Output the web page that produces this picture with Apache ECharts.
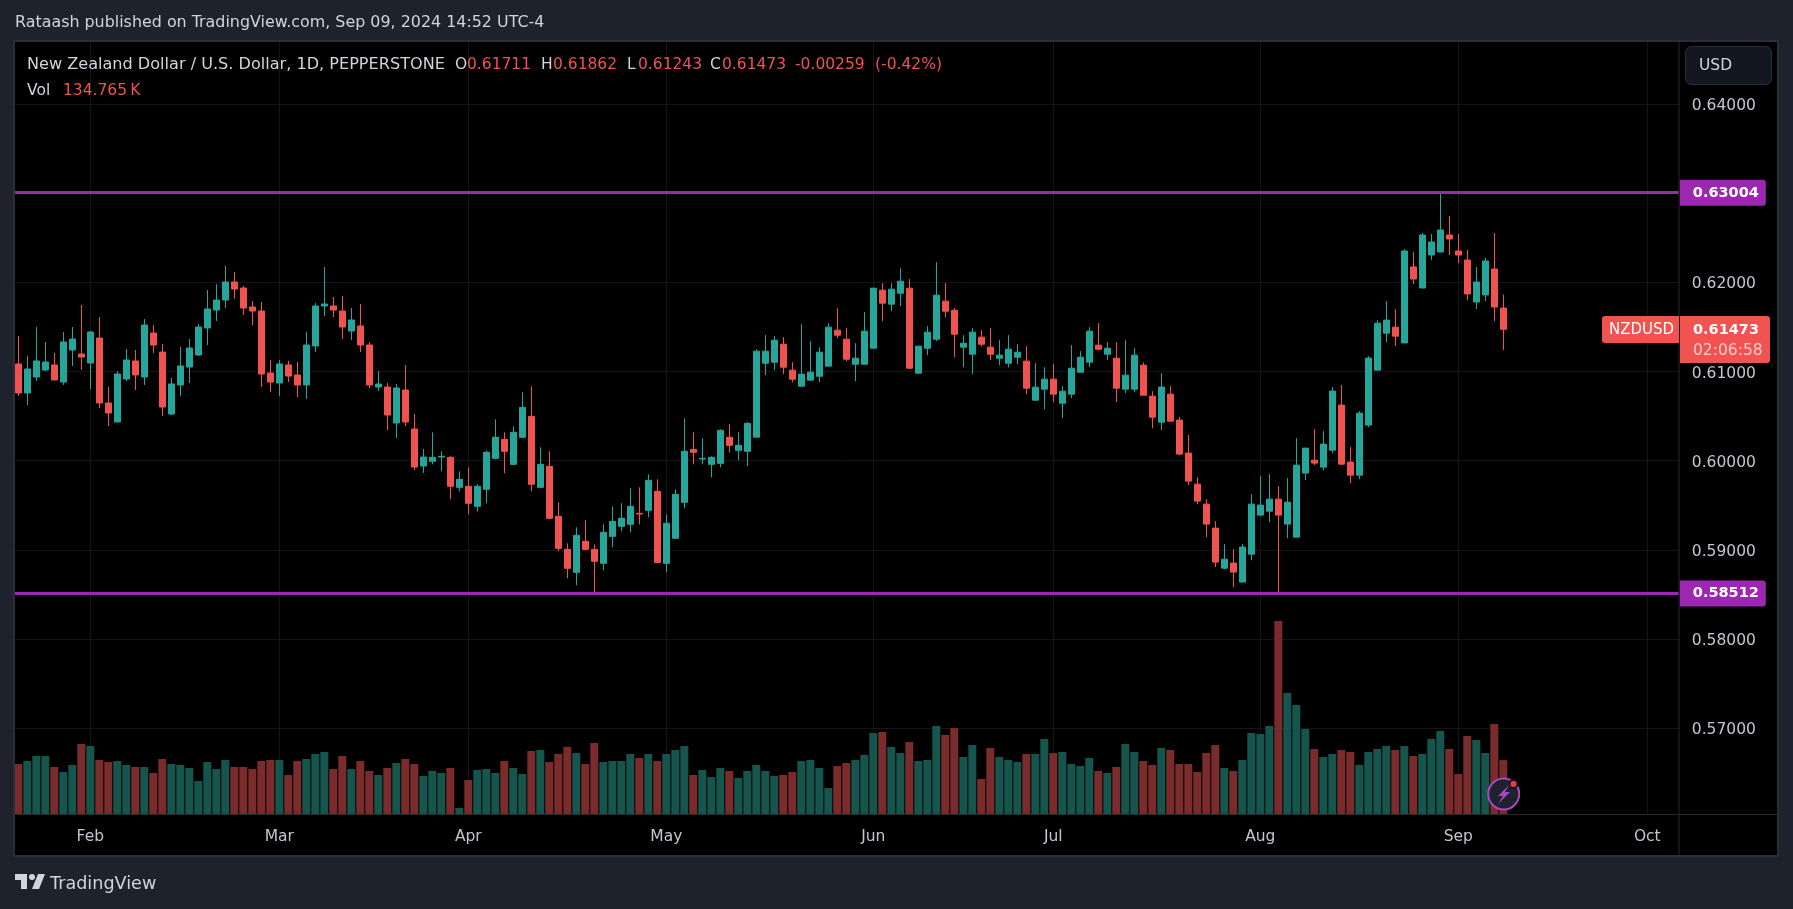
<!DOCTYPE html>
<html>
<head>
<meta charset="utf-8">
<title>NZDUSD</title>
<style>
  html, body { margin: 0; padding: 0; background: #1e222d; }
  #main { width: 1793px; height: 909px; }
</style>
<script src="https://cdn.jsdelivr.net/npm/echarts@6/dist/echarts.min.js"></script>
</head>
<body>
<div id="main"></div>
<script>
// daily candles, 22 Jan - 9 Sep 2024
const opens = [
  0.61084,0.60759,0.60938,0.61017,0.61073,0.60882,0.61241,0.61196,0.61095,0.61375,
  0.60647,0.60434,0.60916,0.61118,0.60938,0.61431,0.61218,0.60523,0.60849,0.61050,
  0.61185,0.61488,0.61689,0.61801,0.62003,0.61936,0.61723,0.61678,0.60983,0.60871,
  0.61073,0.60961,0.60849,0.61286,0.61734,0.61734,0.61678,0.61454,0.61510,0.61297,
  0.60826,0.60826,0.60423,0.60792,0.60355,0.59940,0.59993,0.60041,0.60038,0.59701,
  0.59713,0.59488,0.59679,0.60026,0.60239,0.59959,0.60262,0.60497,0.59701,0.59937,
  0.59376,0.59006,0.58748,0.59096,0.59006,0.58849,0.59152,0.59264,0.59287,0.59410,
  0.59443,0.59656,0.58849,0.59130,0.59533,0.60127,0.60019,0.59959,0.59970,0.60262,
  0.60116,0.60105,0.60264,0.61093,0.61104,0.61306,0.61015,0.60835,0.60903,0.60947,
  0.61060,0.61463,0.61362,0.61082,0.61082,0.61261,0.61912,0.61755,0.61878,0.61934,
  0.60981,0.61261,0.61362,0.61788,0.61687,0.61273,0.61194,0.61385,0.61273,0.61149,
  0.61093,0.61160,0.61116,0.60678,0.60802,0.60914,0.60645,0.60746,0.60992,0.61104,
  0.61295,0.61194,0.61149,0.60802,0.60802,0.61071,0.60723,0.60432,0.60746,0.60455,
  0.60085,0.59737,0.59513,0.59244,0.58795,0.58852,0.58639,0.58952,0.59390,0.59434,
  0.59569,0.59289,0.59143,0.59861,0.60006,0.59928,0.60118,0.60623,0.59984,0.59838,
  0.60399,0.61015,0.61430,0.61497,0.61320,0.62172,0.61936,0.62306,0.62340,0.62530,
  0.62351,0.62250,0.61779,0.61858,0.62149,0.61711
];
const closes = [
  0.60759,0.61028,0.61118,0.61106,0.60905,0.61331,0.61364,0.61162,0.61443,0.60647,
  0.60535,0.60972,0.61129,0.60961,0.61521,0.61297,0.60602,0.60860,0.61062,0.61263,
  0.61499,0.61701,0.61801,0.62003,0.61925,0.61712,0.61678,0.60972,0.60882,0.61084,
  0.60949,0.60849,0.61297,0.61734,0.61757,0.61689,0.61499,0.61577,0.61297,0.60849,
  0.60860,0.60512,0.60815,0.60434,0.59929,0.60041,0.60038,0.60049,0.59713,0.59791,
  0.59522,0.59713,0.60094,0.60262,0.60105,0.60318,0.60598,0.59735,0.59959,0.59354,
  0.59017,0.58793,0.59163,0.59006,0.58872,0.59197,0.59320,0.59354,0.59488,0.59402,
  0.59780,0.58860,0.59298,0.59623,0.60105,0.60094,0.60026,0.60038,0.60340,0.60172,
  0.60172,0.60419,0.61228,0.61228,0.61351,0.61048,0.60914,0.60970,0.60992,0.61216,
  0.61497,0.61407,0.61138,0.61149,0.61452,0.61934,0.61766,0.61923,0.62012,0.61037,
  0.61284,0.61441,0.61856,0.61676,0.61418,0.61317,0.61441,0.61306,0.61194,0.61183,
  0.61250,0.61216,0.60813,0.60824,0.60914,0.60746,0.60779,0.61037,0.61160,0.61452,
  0.61250,0.61261,0.60813,0.60959,0.61183,0.60734,0.60488,0.60825,0.60443,0.60074,
  0.59771,0.59547,0.59289,0.58863,0.58896,0.58751,0.59031,0.59513,0.59502,0.59569,
  0.59390,0.59535,0.59950,0.60141,0.59973,0.60186,0.60780,0.59961,0.59838,0.60533,
  0.61150,0.61542,0.61576,0.61396,0.62351,0.62037,0.62530,0.62452,0.62586,0.62486,
  0.62306,0.61869,0.62003,0.62239,0.61723,0.61473
];
const lows = [
  0.60725,0.60624,0.60893,0.61005,0.60905,0.60849,0.61062,0.61017,0.60804,0.60591,
  0.60389,0.60434,0.60893,0.60792,0.60849,0.61207,0.60501,0.60512,0.60725,0.60871,
  0.61174,0.61297,0.61566,0.61712,0.61813,0.61633,0.61521,0.60826,0.60770,0.60725,
  0.60882,0.60714,0.60692,0.61218,0.61622,0.61611,0.61364,0.61353,0.61218,0.60815,
  0.60781,0.60344,0.60254,0.60389,0.59896,0.59862,0.59959,0.59881,0.59567,0.59656,
  0.59399,0.59432,0.59522,0.60015,0.59858,0.59948,0.60262,0.59656,0.59690,0.59343,
  0.58984,0.58681,0.58603,0.58995,0.58524,0.58771,0.59029,0.59208,0.59197,0.59287,
  0.59365,0.58860,0.58748,0.59130,0.59466,0.59959,0.59959,0.59813,0.59926,0.60094,
  0.60004,0.59937,0.60264,0.60959,0.61015,0.60970,0.60880,0.60835,0.60903,0.60880,
  0.61060,0.61373,0.61116,0.60891,0.61082,0.61261,0.61564,0.61676,0.61732,0.61026,
  0.60981,0.61183,0.61340,0.61609,0.61160,0.61048,0.60970,0.61284,0.61127,0.61071,
  0.61048,0.61082,0.60746,0.60678,0.60577,0.60656,0.60477,0.60701,0.60992,0.61048,
  0.61239,0.61127,0.60656,0.60757,0.60768,0.60734,0.60364,0.60343,0.60443,0.60062,
  0.59726,0.59513,0.59143,0.58807,0.58784,0.58582,0.58639,0.58885,0.59378,0.59311,
  0.58512,0.59132,0.59143,0.59782,0.59950,0.59894,0.60085,0.59950,0.59748,0.59793,
  0.60376,0.61015,0.61329,0.61284,0.61320,0.61981,0.61936,0.62250,0.62340,0.62306,
  0.62216,0.61802,0.61701,0.61790,0.61566,0.61243
];
const highs = [
  0.61398,0.61174,0.61499,0.61331,0.61207,0.61443,0.61499,0.61745,0.61454,0.61611,
  0.60826,0.61005,0.61252,0.61241,0.61588,0.61521,0.61308,0.60927,0.61275,0.61364,
  0.61532,0.61914,0.61981,0.62183,0.62115,0.61958,0.61790,0.61779,0.61129,0.61129,
  0.61118,0.61106,0.61443,0.61768,0.62171,0.61835,0.61846,0.61712,0.61757,0.61331,
  0.61005,0.60871,0.60860,0.61073,0.60523,0.60131,0.60318,0.60105,0.60049,0.59881,
  0.59926,0.59735,0.60116,0.60464,0.60318,0.60385,0.60766,0.60834,0.60150,0.60105,
  0.59533,0.59074,0.59253,0.59331,0.59062,0.59287,0.59488,0.59522,0.59690,0.59701,
  0.59847,0.59791,0.59399,0.59679,0.60475,0.60318,0.60251,0.60049,0.60352,0.60408,
  0.60318,0.60430,0.61250,0.61407,0.61396,0.61385,0.61104,0.61530,0.61340,0.61273,
  0.61542,0.61710,0.61486,0.61317,0.61665,0.61934,0.61990,0.61990,0.62158,0.62035,
  0.61284,0.61508,0.62225,0.61990,0.61710,0.61407,0.61486,0.61463,0.61486,0.61351,
  0.61407,0.61306,0.61284,0.61093,0.61048,0.61082,0.60835,0.61295,0.61228,0.61497,
  0.61542,0.61329,0.61329,0.61351,0.61261,0.61104,0.60779,0.60982,0.60836,0.60488,
  0.60287,0.59816,0.59569,0.59322,0.59065,0.59008,0.59065,0.59625,0.59827,0.59849,
  0.59715,0.59804,0.60253,0.60141,0.60354,0.60331,0.60825,0.60847,0.60152,0.60556,
  0.61172,0.61576,0.61789,0.61699,0.62373,0.62340,0.62553,0.62542,0.63001,0.62743,
  0.62542,0.62362,0.62172,0.62273,0.62553,0.61862
];
// volume in thousands
const volumes = [
  125,132.5,145,145,117.5,105,122.5,175,170,135,
  130,132.5,122.5,117.5,117.5,102.5,137.5,125,122.5,115,
  82.5,130,112.5,135,117.5,117.5,112.5,132.5,135,135,
  97.5,132.5,137.5,150,155,112.5,145,112.5,132.5,107.5,
  97.5,115,127.5,137.5,125,95,107.5,102.5,115,15,
  85,110,112.5,102.5,132.5,115,100,157.5,160,130,
  150,167.5,152.5,125,177.5,130,132.5,132.5,150,140,
  150,132.5,150,160,170,97.5,110,92.5,115,107.5,
  90,107.5,122.5,107.5,95,97.5,105,132.5,135,115,
  65,120,127.5,135,147.5,202.5,205,167.5,152.5,180,
  132.5,135,220,197.5,215,142.5,172.5,87.5,165,142.5,
  135,130,150,150,187.5,152.5,155,125,120,140,
  107.5,102.5,117.5,175,155,132.5,122.5,165,160,125,
  125,105,152.5,172.5,115,107.5,135,202.5,200,220,
  482.5,302.5,272.5,212.5,162.5,142.5,150,160,155,122.5,
  155,162.5,170,160,170,145,150,187.5,207.5,162.5,
  100,195,185,152.5,225,134.765
];
const levels = [0.63004, 0.58512];
const priceTicks = [0.57, 0.58, 0.59, 0.60, 0.61, 0.62, 0.64];
const monthTicks = { 8: 'Feb', 29: 'Mar', 50: 'Apr', 72: 'May', 95: 'Jun', 115: 'Jul', 138: 'Aug', 160: 'Sep', 181: 'Oct' };

const up = '#26a69a';
const down = '#ef5350';
const volUp = '#16544e';
const volDown = '#7a2b2b';
const grey = '#c3c6cf';
const font = '"DejaVu Sans", sans-serif';

// weekdays from 22 Jan, run past the last bar so Oct has a slot
const dates = [];
for (let d = new Date(Date.UTC(2024, 0, 22)); dates.length < 185; d.setUTCDate(d.getUTCDate() + 1)) {
  if (d.getUTCDay() > 0 && d.getUTCDay() < 6) dates.push(d.toISOString().slice(0, 10));
}

const candleData = opens.map((o, i) => [o, closes[i], lows[i], highs[i]]);
const volumeData = volumes.map((v, i) => ({
  value: v,
  itemStyle: { color: closes[i] >= opens[i] ? volUp : volDown }
}));
const isMonth = index => monthTicks[index] !== undefined;

function label(x, y, text, color, extra) {
  return {
    type: 'text', x: x, y: y, z: 20,
    style: Object.assign({ text: text, fill: color, font: '15.5px ' + font, textVerticalAlign: 'middle' }, extra || {})
  };
}

const chart = echarts.init(document.getElementById('main'));
chart.setOption({
  animation: false,
  backgroundColor: '#1e222d',
  grid: [
    { left: 13.8, top: 42, width: 1665, height: 772 },
    { left: 13.8, top: 514, width: 1665, height: 300 }
  ],
  xAxis: [
    {
      type: 'category', gridIndex: 0, data: dates,
      axisLine: { show: false },
      axisTick: { show: false },
      axisLabel: {
        interval: isMonth,
        formatter: (v, i) => monthTicks[i],
        color: grey, fontFamily: font, fontSize: 15.5, margin: 15
      },
      splitLine: { show: true, interval: isMonth, alignWithLabel: true, lineStyle: { color: '#141518', width: 1 } }
    },
    {
      type: 'category', gridIndex: 1, data: dates,
      axisLine: { show: false }, axisTick: { show: false }, axisLabel: { show: false }, splitLine: { show: false }
    }
  ],
  yAxis: [
    {
      type: 'value', gridIndex: 0, position: 'right', scale: true,
      min: 0.56039, max: 0.64694,
      axisLine: { show: false },
      axisTick: { show: false, customValues: priceTicks },
      axisLabel: {
        customValues: priceTicks,
        formatter: v => v.toFixed(5),
        color: grey, fontFamily: font, fontSize: 15.5, margin: 13,
        verticalAlign: 'top', lineHeight: 4
      },
      splitLine: { show: true, lineStyle: { color: '#141518', width: 1 } }
    },
    {
      type: 'value', gridIndex: 1, min: 0, max: 750, show: false
    }
  ],
  series: [
    {
      type: 'bar', name: 'Vol', xAxisIndex: 1, yAxisIndex: 1,
      data: volumeData, barWidth: 8, z: 1
    },
    {
      type: 'candlestick', name: 'NZDUSD', xAxisIndex: 0, yAxisIndex: 0,
      data: candleData, barWidth: 7, z: 2,
      itemStyle: { color: up, color0: down, borderColor: up, borderColor0: down, borderWidth: 1 },
      markLine: {
        silent: true, symbol: 'none', animation: false, precision: 5,
        lineStyle: { color: '#9c27b0', width: 3, type: 'solid' },
        label: {
          position: 'end', distance: 1, formatter: p => p.value.toFixed(5),
          color: '#fff', backgroundColor: '#9c27b0', fontFamily: font, fontSize: 14.5, fontWeight: 700,
          padding: [6, 7, 5, 13], borderRadius: [0, 3, 3, 0]
        },
        data: levels.map(v => ({ yAxis: v }))
      }
    }
  ],
  graphic: [
    // chart panel behind everything
    { type: 'rect', z: -10, shape: { x: 15, y: 42, width: 1762, height: 813 }, style: { fill: '#000' } },
    { type: 'line', z: 15, shape: { x1: 1679, y1: 42, x2: 1679, y2: 855 }, style: { stroke: '#26282f', lineWidth: 1 } },
    { type: 'line', z: 15, shape: { x1: 15, y1: 814.5, x2: 1777, y2: 814.5 }, style: { stroke: '#26282f', lineWidth: 1 } },
    { type: 'rect', z: 15, shape: { x: 14, y: 41, width: 1764, height: 815 }, style: { fill: null, stroke: '#2a2e39', lineWidth: 2 } },

    label(15, 23, 'Rataash published on TradingView.com, Sep 09, 2024 14:52 UTC-4', '#d1d4dc', { font: '15.9px ' + font }),
    label(27, 65, 'New Zealand Dollar / U.S. Dollar, 1D, PEPPERSTONE', '#d1d4dc', { font: '16.1px ' + font }),
    label(455, 65, 'O', '#d1d4dc'),
    label(467, 65, '0.61711', down),
    label(541, 65, 'H', '#d1d4dc'),
    label(553, 65, '0.61862', down),
    label(627, 65, 'L', '#d1d4dc'),
    label(638, 65, '0.61243', down),
    label(710, 65, 'C', '#d1d4dc'),
    label(722, 65, '0.61473', down),
    label(795, 65, '-0.00259', down),
    label(875, 65, '(-0.42%)', down),
    label(27, 91, 'Vol', '#d1d4dc'),
    label(63, 91, '134.765\u202fK', down),

    // currency button
    { type: 'rect', z: 20, shape: { x: 1685.5, y: 46.5, width: 86, height: 38, r: 6 }, style: { fill: '#131722', stroke: '#2a2e39', lineWidth: 1 } },
    label(1699, 66, 'USD', '#d1d4dc', { z: 21 }),

    // last price tags
    { type: 'rect', z: 20, shape: { x: 1602, y: 316, width: 77, height: 27, r: [3, 0, 0, 3] }, style: { fill: '#f05350' } },
    label(1609, 330, 'NZDUSD', '#fff', { font: '15px ' + font }),
    { type: 'rect', z: 20, shape: { x: 1680, y: 316, width: 90, height: 47, r: [0, 3, 3, 0] }, style: { fill: '#f05350' } },
    label(1693, 330, closes[closes.length - 1].toFixed(5), '#fff', { font: '700 14.5px ' + font }),
    label(1693, 351, '02:06:58', 'rgba(255,255,255,0.7)'),

    // bolt badge
    { type: 'circle', z: 20, shape: { cx: 1503.7, cy: 794, r: 15.5 }, style: { fill: '#1e222d', stroke: '#ab47bc', lineWidth: 2 } },
    { type: 'polygon', z: 21, shape: { points: [[1509, 785], [1498, 796], [1503, 796], [1498, 804], [1510, 792], [1505, 792]] }, style: { fill: '#ab47bc' } },
    { type: 'circle', z: 22, shape: { cx: 1513.5, cy: 784, r: 4 }, style: { fill: '#f23645', stroke: '#131722', lineWidth: 2 } },

    // logo
    { type: 'polygon', z: 20, shape: { points: [[15, 874], [27, 874], [27, 889], [21, 889], [21, 880], [15, 880]] }, style: { fill: '#d1d4dc' } },
    { type: 'polygon', z: 20, shape: { points: [[39, 889], [32, 889], [38, 874], [45, 874]] }, style: { fill: '#d1d4dc' } },
    { type: 'circle', z: 20, shape: { cx: 32, cy: 877, r: 3 }, style: { fill: '#d1d4dc' } },
    label(50, 884, 'TradingView', '#d1d4dc', { font: '17.6px ' + font })
  ]
});
</script>
</body>
</html>
